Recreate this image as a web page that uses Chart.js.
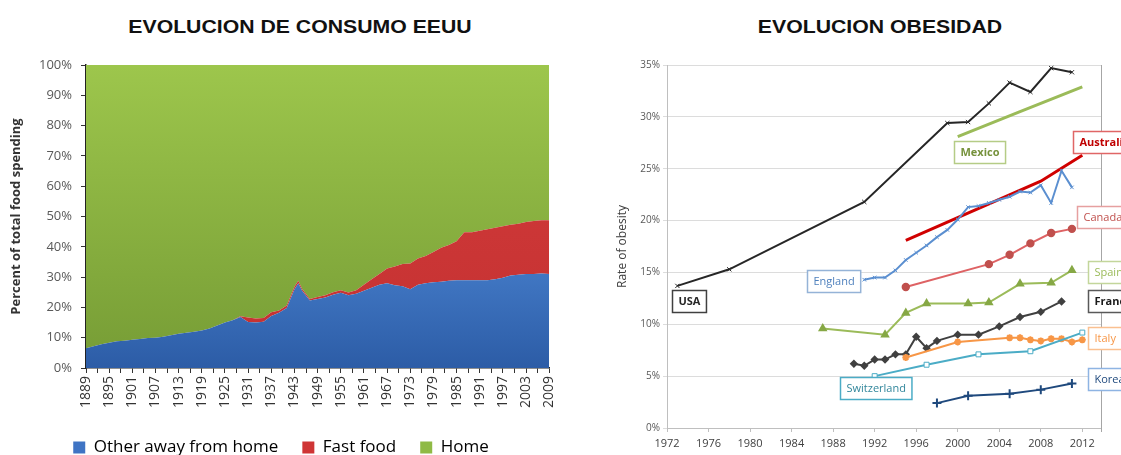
<!DOCTYPE html>
<html><head><meta charset="utf-8">
<script src="https://cdn.jsdelivr.net/npm/chart.js@4.4.1/dist/chart.umd.min.js"></script>
<style>
html,body{margin:0;padding:0;background:#fff;width:1121px;height:455px;overflow:hidden;position:relative}
.title{position:absolute;top:17px;font:bold 18px "Liberation Sans",Arial,sans-serif;color:#111;white-space:nowrap;transform:translateX(-50%) scaleX(1.18);line-height:20px}
#c1{position:absolute;left:0;top:0}
#c2{position:absolute;left:580px;top:0}
</style></head><body>
<div class="title" style="left:300px">EVOLUCION DE CONSUMO EEUU</div>
<div class="title" style="left:880px">EVOLUCION OBESIDAD</div>
<canvas id="c1" width="569" height="466"></canvas>
<canvas id="c2" width="541" height="455"></canvas>
<script>
// ---------- Left chart data: share of food spending (%) ----------
const years = [1889,1891,1893,1895,1897,1899,1901,1903,1905,1907,1909,1911,1913,1915,1917,1919,1921,1923,1925,1927,1929,1931,1933,1935,1937,1939,1941,1943,1944,1945,1947,1949,1951,1953,1955,1957,1959,1961,1963,1965,1967,1969,1971,1973,1975,1977,1979,1981,1983,1985,1987,1989,1991,1993,1995,1997,1999,2001,2003,2005,2007,2009];
const otherAway = [6.5,7.2,7.8,8.3,8.8,9.0,9.3,9.6,9.9,10.0,10.3,10.8,11.3,11.6,12.0,12.4,13.0,14.0,15.0,15.8,16.8,15.2,15.0,15.3,17.2,18.2,19.8,26.0,28.0,25.5,22.3,22.8,23.3,24.2,24.8,24.0,24.5,25.5,26.5,27.5,28.0,27.3,27.0,26.0,27.5,28.0,28.3,28.5,28.8,29.0,29.0,29.0,29.0,29.0,29.3,29.8,30.5,30.8,31.0,31.0,31.2,31.0];
const fastFood = [0,0,0,0,0,0,0,0,0,0,0,0,0,0,0,0,0,0,0,0,0.3,1.5,1.3,1.2,1.2,0.8,0.8,0.8,0.8,0.6,0.5,0.6,0.7,0.8,0.9,0.9,1.2,2.0,2.8,3.5,4.8,6.2,7.3,8.5,8.6,9.0,10.0,11.2,11.8,12.8,15.8,15.8,16.3,16.8,17.0,17.0,16.8,16.8,17.2,17.5,17.6,17.8];
const home = [93.5,92.8,92.2,91.7,91.2,91.0,90.7,90.4,90.1,90.0,89.7,89.2,88.7,88.4,88.0,87.6,87.0,86.0,85.0,84.2,82.9,83.3,83.7,83.5,81.6,81.0,79.4,73.2,71.2,73.9,77.2,76.6,76.0,75.0,74.3,75.1,74.3,72.5,70.7,69.0,67.2,66.5,65.7,65.5,63.9,63.0,61.7,60.3,59.4,58.2,55.2,55.2,54.7,54.2,53.7,53.2,52.7,52.4,51.8,51.5,51.2,51.2];
const consumoSeries = ['Other away from home','Fast food','Home'];
const consumoTickLabels = ['1889','1895','1901','1907','1913','1919','1925','1931','1937','1943','1949','1955','1961','1967','1973','1979','1985','1991','1997','2003','2009'];

// ---------- Right chart data: obesity rate (%) ----------
const usaYears = [1973,1978,1991,1999,2001,2003,2005,2007,2009,2011];
const usaVals  = [13.7,15.3,21.8,29.4,29.5,31.3,33.3,32.4,34.7,34.3];
const mexicoYears = [2000,2006,2012];
const mexicoVals  = [28.1,30.5,32.9];
const australiaYears = [1995,2008,2012];
const australiaVals  = [18.1,23.8,26.3];
const englandYears = [1991,1992,1993,1994,1995,1996,1997,1998,1999,2000,2001,2002,2003,2004,2005,2006,2007,2008,2009,2010,2011];
const englandVals  = [14.3,14.5,14.5,15.2,16.2,16.9,17.6,18.4,19.1,20.1,21.3,21.4,21.7,22.0,22.3,22.8,22.7,23.4,21.7,24.8,23.2];
const canadaYears = [1995,2003,2005,2007,2009,2011];
const canadaVals  = [13.6,15.8,16.7,17.8,18.8,19.2];
const spainYears = [1987,1993,1995,1997,2001,2003,2006,2009,2011];
const spainVals  = [9.6,9.0,11.1,12.0,12.0,12.1,13.9,14.0,15.2];
const franceYears = [1990,1991,1992,1993,1994,1995,1996,1997,1998,2000,2002,2004,2006,2008,2010];
const franceVals  = [6.2,6.0,6.6,6.6,7.1,7.1,8.8,7.7,8.4,9.0,9.0,9.8,10.7,11.2,12.2];
const italyYears = [1995,2000,2005,2006,2007,2008,2009,2010,2011,2012];
const italyVals  = [6.8,8.3,8.7,8.7,8.5,8.4,8.6,8.6,8.3,8.5];
const switzerlandYears = [1992,1997,2002,2007,2012];
const switzerlandVals  = [5.0,6.1,7.1,7.4,9.2];
const koreaYears = [1998,2001,2005,2008,2011];
const koreaVals  = [2.4,3.1,3.3,3.7,4.3];
const obesityTickLabels = ['1972','1976','1980','1984','1988','1992','1996','2000','2004','2008','2012'];

const pts = (xs, ys) => xs.map((x, i) => ({x: x, y: ys[i]}));

// ---------- Left chart ----------
function grad(stops) {
  return (c) => {
    const chart = c.chart, area = chart.chartArea;
    if (!area) return stops[stops.length - 1][1];
    const g = chart.ctx.createLinearGradient(0, area.top, 0, area.bottom);
    stops.forEach(s => g.addColorStop(s[0], s[1]));
    return g;
  };
}
const legendColors = ['#3f74c4', '#cf3535', '#8fba45'];

new Chart(document.getElementById('c1'), {
  type: 'line',
  data: {
    datasets: [
      {label: consumoSeries[0], data: pts(years, otherAway), fill: 'origin', borderWidth: 0, pointRadius: 0,
       backgroundColor: grad([[0,'#5088d4'],[0.6,'#467ecb'],[1,'#2c5ca6']])},
      {label: consumoSeries[1], data: pts(years, fastFood), fill: '-1', borderWidth: 0, pointRadius: 0,
       backgroundColor: grad([[0,'#d43c3c'],[1,'#c43131']])},
      {label: consumoSeries[2], data: pts(years, home), fill: '-1', borderWidth: 0, pointRadius: 0,
       backgroundColor: grad([[0,'#9dc64c'],[1,'#769c35']])}
    ]
  },
  options: {
    responsive: false, animation: false,
    layout: {padding: {top: 65, left: 4, right: 11, bottom: 0}},
    plugins: {
      tooltip: {enabled: false},
      legend: {
        position: 'bottom',
        labels: {
          font: {family: '"Open Sans"', size: 17}, color: '#333', boxWidth: 12, boxHeight: 12, padding: 24,
          generateLabels: (chart) => chart.data.datasets.map((d, i) => ({
            text: d.label, fillStyle: legendColors[i], strokeStyle: legendColors[i], lineWidth: 0, hidden: false, datasetIndex: i
          }))
        }
      }
    },
    scales: {
      x: {
        type: 'linear', min: 1889, max: 2009,
        afterBuildTicks: (s) => { const t = []; for (let v = 1889; v <= 2009; v += 3) t.push({value: v}); s.ticks = t; },
        afterFit: (s) => { s.height = 47; },
        ticks: {autoSkip: false, minRotation: 90, maxRotation: 90, padding: 3,
          font: {family: '"Open Sans"', size: 14}, color: '#333',
          callback: (v) => consumoTickLabels.includes(String(v)) ? String(v) : ''},
        grid: {drawOnChartArea: false, tickLength: 5, color: '#333'},
        border: {color: '#222', width: 1.5}
      },
      y: {
        stacked: true, min: 0, max: 100,
        afterFit: (s) => { s.width = 82; },
        ticks: {stepSize: 10, padding: 9, font: {family: '"Open Sans"', size: 13}, color: '#595959', callback: (v) => v + '%'},
        grid: {drawOnChartArea: false, tickLength: 5, color: '#333'},
        border: {color: '#222', width: 1.5},
        title: {display: true, text: 'Percent of total food spending', color: '#333', font: {family: '"Open Sans"', size: 13, weight: 'bold'}}
      }
    }
  }
});

// ---------- Right chart ----------
const boxLabels = [
  {text: 'USA', x: 1972.5, y: 12.2, color: '#262626', border: '#404040', bold: true},
  {text: 'England', x: 1985.5, y: 14.2, color: '#4f81bd', border: '#95b3d7'},
  {text: 'Switzerland', x: 1988.7, y: 3.9, color: '#31869b', border: '#4bacc6'},
  {text: 'Mexico', x: 1999.6, y: 26.6, color: '#76923c', border: '#b5cc86', bold: true},
  {text: 'Australia', x: 2011.1, y: 27.6, color: '#c00000', border: '#e06666', bold: true},
  {text: 'Canada', x: 2011.5, y: 20.3, color: '#c0504d', border: '#e6a0a0'},
  {text: 'Spain', x: 2012.5, y: 15.0, color: '#9bbb59', border: '#c3d69b'},
  {text: 'France', x: 2012.5, y: 12.2, color: '#1a1a1a', border: '#595959', bold: true},
  {text: 'Italy', x: 2012.5, y: 8.7, color: '#f79646', border: '#fac090'},
  {text: 'Korea', x: 2012.5, y: 4.7, color: '#1f497d', border: '#8eb4e3'}
];
const obesityPlugin = {
  id: 'obesityDecor',
  beforeDatasetsDraw(chart) {
    const {ctx, chartArea: a} = chart;
    ctx.save();
    ctx.strokeStyle = '#a6a6a6'; ctx.lineWidth = 1;
    const x = Math.round(a.right) + 0.5;
    ctx.beginPath(); ctx.moveTo(x, a.top); ctx.lineTo(x, a.bottom + 4); ctx.stroke();
    ctx.restore();
  },
  afterDatasetsDraw(chart) {
    const {ctx} = chart, xs = chart.scales.x, ys = chart.scales.y;
    ctx.save();
    boxLabels.forEach(b => {
      ctx.font = (b.bold ? 'bold ' : '') + '11px "Open Sans"';
      const w = ctx.measureText(b.text).width + 12, h = 22;
      const left = Math.round(xs.getPixelForValue(b.x)) + 0.5;
      const top = Math.round(ys.getPixelForValue(b.y) - h / 2) + 0.5;
      ctx.fillStyle = '#fff'; ctx.fillRect(left, top, w, h);
      ctx.strokeStyle = b.border; ctx.lineWidth = 1.5; ctx.strokeRect(left, top, w, h);
      ctx.fillStyle = b.color; ctx.textBaseline = 'middle'; ctx.textAlign = 'left';
      ctx.fillText(b.text, left + 6, top + h / 2 + 0.5);
    });
    ctx.restore();
  }
};
const line = (label, xs, ys, color, extra) => Object.assign({
  label: label, data: pts(xs, ys), borderColor: color, backgroundColor: color, borderWidth: 2,
  pointRadius: 0, fill: false, tension: 0
}, extra || {});

new Chart(document.getElementById('c2'), {
  type: 'line',
  data: {
    datasets: [
      line('USA', usaYears, usaVals, '#262626', {pointStyle: 'crossRot', pointRadius: 3, pointBorderWidth: 1}),
      line('Mexico', mexicoYears, mexicoVals, '#9bbb59', {borderWidth: 3}),
      line('England', englandYears, englandVals, '#5b8fd0', {pointStyle: 'crossRot', pointRadius: 2.5, pointBorderWidth: 1}),
      line('Australia', australiaYears, australiaVals, '#d00000', {borderWidth: 3}),
      line('Canada', canadaYears, canadaVals, '#de6264', {pointStyle: 'circle', pointRadius: 3.2, pointBackgroundColor: '#c0504d', pointBorderColor: '#c0504d'}),
      line('Spain', spainYears, spainVals, '#9bbb59', {pointStyle: 'triangle', pointRadius: 3.5, pointBackgroundColor: '#86a845', pointBorderColor: '#86a845'}),
      line('Switzerland', switzerlandYears, switzerlandVals, '#4bacc6', {pointStyle: 'rect', pointRadius: 3.5, pointBackgroundColor: '#fff', pointBorderWidth: 1}),
      line('Italy', italyYears, italyVals, '#f79646', {pointStyle: 'star', pointRadius: 3.5, pointBorderWidth: 2}),
      line('France', franceYears, franceVals, '#404040', {pointStyle: 'rectRot', pointRadius: 2.8}),
      line('Korea', koreaYears, koreaVals, '#1f497d', {pointStyle: 'cross', pointRadius: 4.5, pointBorderWidth: 2})
    ]
  },
  options: {
    responsive: false, animation: false,
    layout: {padding: {top: 65, left: 31, right: 20, bottom: 7}},
    plugins: {legend: {display: false}, tooltip: {enabled: false}},
    scales: {
      x: {
        type: 'linear', min: 1972, max: 2013.8,
        afterBuildTicks: (s) => { s.ticks = obesityTickLabels.map(l => ({value: Number(l)})); },
        afterFit: (s) => { s.height = 20; },
        ticks: {autoSkip: false, maxRotation: 0, padding: 5, font: {family: '"Open Sans"', size: 11}, color: '#404040',
          callback: (v) => obesityTickLabels.includes(String(v)) ? String(v) : ''},
        grid: {drawOnChartArea: false, tickLength: 4, color: '#bfbfbf'},
        border: {color: '#bfbfbf'}
      },
      y: {
        min: 0, max: 35,
        afterFit: (s) => { s.width = 56; },
        ticks: {stepSize: 5, padding: 3, font: {family: '"Open Sans"', size: 10}, color: '#595959', callback: (v) => v + '%'},
        grid: {color: '#dcdcdc', tickLength: 4},
        border: {color: '#bfbfbf'},
        title: {display: true, text: 'Rate of obesity', color: '#404040', font: {family: '"Open Sans"', size: 12}}
      }
    }
  },
  plugins: [obesityPlugin]
});
</script>
</body></html>
